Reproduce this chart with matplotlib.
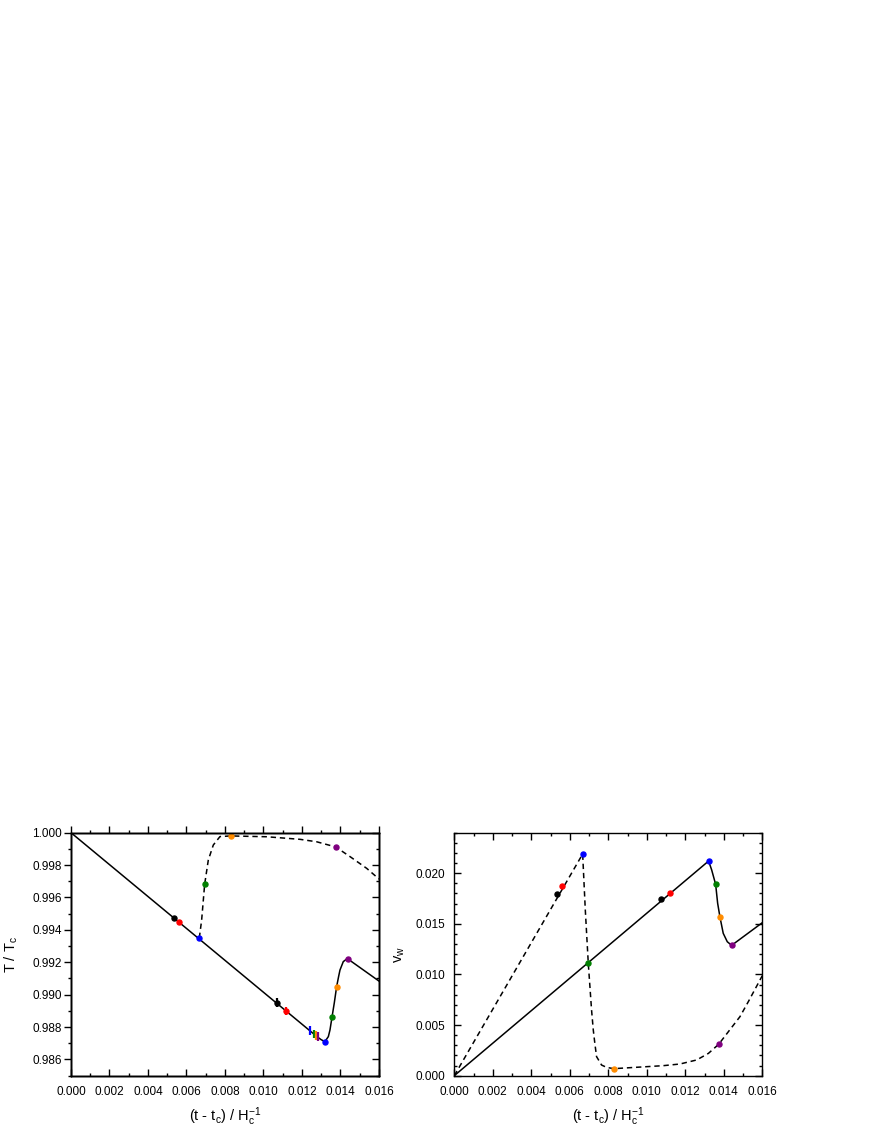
import matplotlib
matplotlib.use("Agg")
import matplotlib.pyplot as plt
from matplotlib.ticker import MultipleLocator, FormatStrFormatter, NullFormatter

plt.rcParams['font.family'] = ['Liberation Sans', 'DejaVu Sans']
plt.rcParams['mathtext.fontset'] = 'custom'
plt.rcParams['mathtext.rm'] = 'Liberation Sans'
plt.rcParams['mathtext.it'] = 'Liberation Sans'

colors = ['black', 'red', 'blue', 'green', 'darkorange', 'purple']

# ---- left panel: T / Tc ----
T_solid_x = [0.0, 0.0128, 0.0130, 0.01319, 0.01337, 0.013455, 0.013558, 0.01368, 0.0138,
             0.0139, 0.013974, 0.014146, 0.0143, 0.01439, 0.016]
T_solid_y = [1.0, 0.98739, 0.98722, 0.98710, 0.98741, 0.98782, 0.98860, 0.98950, 0.99049,
             0.99110, 0.99152, 0.99204, 0.99218, 0.99220, 0.99084]
T_dash_x = [0.006667, 0.006788, 0.006944, 0.007134, 0.007394, 0.00774, 0.008294, 0.01016,
            0.0119, 0.01276, 0.01375, 0.0145, 0.01536, 0.016]
T_dash_y = [0.9935, 0.99461, 0.99681, 0.99831, 0.99924, 0.99976, 0.99980, 0.99975,
            0.99959, 0.99944, 0.99912, 0.99852, 0.99780, 0.99714]

# dots on the curves (color index, x, y)
T_dot_c = [0, 1, 2, 3, 4, 5, 2, 3, 4, 5]
T_dot_x = [0.005333, 0.005593, 0.006667, 0.00696, 0.008294, 0.01375, 0.01319, 0.013558, 0.0138, 0.01439]
T_dot_y = [0.99471, 0.99451, 0.9935, 0.99681, 0.99979, 0.99912, 0.9871, 0.9886, 0.9905, 0.9922]

# points with error bars
T_err_c = [0, 1, 2, 3, 4, 5]
T_err_x = [0.01072, 0.01117, 0.01242, 0.01264, 0.01272, 0.01281]
T_err_y = [0.98951, 0.98899, 0.98778, 0.98757, 0.98750, 0.98741]
T_err_e = [0.00027, 0.00027, 0.00029, 0.00027, 0.00027, 0.00027]

# ---- right panel: v_w ----
v_solid_x = [0.0, 0.01321, 0.01337, 0.013576, 0.01368, 0.0138, 0.01397, 0.01418, 0.014407, 0.016]
v_solid_y = [0.0, 0.0212, 0.02032, 0.018897, 0.01703, 0.01567, 0.01406, 0.01323, 0.012872, 0.01511]
v_dash_x = [0.0, 0.006667, 0.006805, 0.00696, 0.00713, 0.00722, 0.0073, 0.00739, 0.00765,
            0.00791, 0.008277, 0.01086, 0.01172, 0.01259, 0.0132, 0.013732, 0.01484, 0.0153, 0.016]
v_dash_y = [0.0, 0.021893, 0.01636, 0.01109, 0.006486, 0.0045, 0.0032, 0.00188, 0.00105,
            0.00082, 0.00069, 0.000988, 0.00115, 0.00155, 0.0022, 0.003095, 0.00583, 0.0074, 0.009877]

v_dot_c = [0, 1, 2, 3, 4, 5, 0, 1, 2, 3, 4, 5]
v_dot_x = [0.005333, 0.005593, 0.006667, 0.00696, 0.008277, 0.013732,
           0.010719, 0.011203, 0.01321, 0.013576, 0.0138, 0.014407]
v_dot_y = [0.01791, 0.0187, 0.021893, 0.01109, 0.00069, 0.003095,
           0.017416, 0.018074, 0.0212, 0.018897, 0.01567, 0.012872]

fig = plt.figure(figsize=(8.72, 11.28), dpi=100)
ax1 = fig.add_axes([0.0814, 0.0464, 0.3532, 0.2154])
ax2 = fig.add_axes([0.521, 0.0464, 0.3532, 0.2154])

ax1.plot(T_solid_x, T_solid_y, color='black', lw=1.1)
ax1.plot(T_dash_x, T_dash_y, color='black', lw=1.1, dashes=(3.5, 2.5))
for c, x, y in zip(T_dot_c, T_dot_x, T_dot_y):
    ax1.plot(x, y, 'o', color=colors[c], ms=3.6, zorder=5)
for c, x, y, e in zip(T_err_c, T_err_x, T_err_y, T_err_e):
    ms = 3.6 if c < 2 else 0
    ax1.errorbar(x, y, yerr=e, fmt='o', color=colors[c], ms=ms, elinewidth=1.6, capsize=0, zorder=5)

ax2.plot(v_solid_x, v_solid_y, color='black', lw=1.1)
ax2.plot(v_dash_x, v_dash_y, color='black', lw=1.1, dashes=(3.5, 2.5))
for c, x, y in zip(v_dot_c, v_dot_x, v_dot_y):
    ax2.plot(x, y, 'o', color=colors[c], ms=3.6, zorder=5)

ax1.set_xlim(0, 0.016)
ax1.set_ylim(0.985, 1.000)
ax2.set_xlim(0, 0.016)
ax2.set_ylim(0, 0.024)


def style_ticks(axis, ystep, direction_x, direction_y, xlabels=True, ylabels=True, ypad=1.5):
    axis.xaxis.set_major_locator(MultipleLocator(0.002))
    axis.xaxis.set_minor_locator(MultipleLocator(0.001))
    axis.yaxis.set_major_locator(MultipleLocator(ystep))
    axis.yaxis.set_minor_locator(MultipleLocator(0.001))
    axis.xaxis.set_major_formatter(FormatStrFormatter('%.3f') if xlabels else NullFormatter())
    axis.yaxis.set_major_formatter(FormatStrFormatter('%.3f') if ylabels else NullFormatter())
    axis.tick_params(which='both', axis='x', direction=direction_x, labelsize=8.5, width=1.0, pad=7.5)
    axis.tick_params(which='both', axis='y', direction=direction_y, labelsize=8.5, width=1.0, pad=ypad)
    axis.tick_params(which='major', length=5)
    axis.tick_params(which='minor', length=2.5)


# left panel: bottom/right ticks in, left/top ticks out
style_ticks(ax1, 0.002, 'in', 'out', ypad=1.5)
ax1.tick_params(which='both', top=False, right=False)
top1 = ax1.twiny()
top1.set_xlim(ax1.get_xlim())
top1.tick_params(which='both', axis='x', direction='out', top=True, bottom=False,
                 labeltop=False, width=1.0)
top1.xaxis.set_major_locator(MultipleLocator(0.002))
top1.xaxis.set_minor_locator(MultipleLocator(0.001))
top1.tick_params(which='major', length=5)
top1.tick_params(which='minor', length=2.5)
right1 = ax1.twinx()
right1.set_ylim(ax1.get_ylim())
right1.yaxis.set_major_locator(MultipleLocator(0.002))
right1.yaxis.set_minor_locator(MultipleLocator(0.001))
right1.tick_params(which='both', axis='y', direction='in', right=True, left=False,
                   labelright=False, width=1.0)
right1.tick_params(which='major', length=5)
right1.tick_params(which='minor', length=2.5)

# right panel: all ticks in
style_ticks(ax2, 0.005, 'in', 'in', ypad=6.5)
ax2.tick_params(which='both', top=True, right=True)

for ax in (ax1, ax2, top1, right1):
    for s in ax.spines.values():
        s.set_linewidth(1.0)

ax1.set_xlabel('(t - t$_c$) / H$_c^{-1}$', fontsize=10.5, labelpad=5)
ax2.set_xlabel('(t - t$_c$) / H$_c^{-1}$', fontsize=10.5, labelpad=5)
ax1.set_ylabel('T / T$_c$', fontsize=10.5, labelpad=9)
ax2.set_ylabel('v$_w$', fontsize=10.5, labelpad=6)

fig.savefig('out.png', dpi=100)
